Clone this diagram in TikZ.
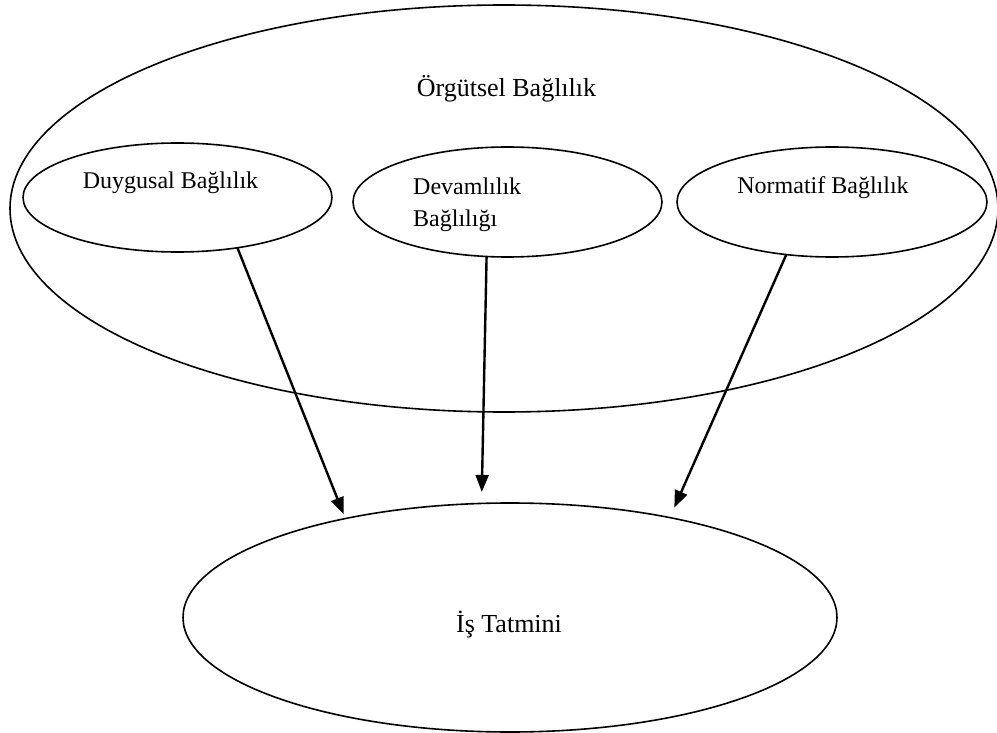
\documentclass[tikz,border=0pt]{standalone}
\usepackage{fontspec}
\setmainfont{Liberation Serif}
\usetikzlibrary{shapes.geometric,arrows.meta}
\begin{document}
\begin{tikzpicture}[x=1pt,y=-1pt,
  oval/.style={draw, ellipse, line width=1.6pt, inner sep=0pt, outer sep=0pt},
  link/.style={line width=2.4pt, -{Triangle[length=17pt,width=13pt]}},
  lbl/.style={inner sep=0pt, anchor=base},
  bigtext/.style={font=\fontsize{26}{31}\selectfont},
  smalltext/.style={font=\fontsize{24}{32}\selectfont}]
\useasboundingbox (0,0) rectangle (997,733);

% outer concept and its three components
\node[oval, minimum width=988pt, minimum height=407pt] (org) at (504,208.5) {};
\node[oval, minimum width=309pt, minimum height=109pt] (duy) at (177.5,197.5) {};
\node[oval, minimum width=309pt, minimum height=110pt] (dev) at (507.5,202) {};
\node[oval, minimum width=310pt, minimum height=110pt] (nor) at (832,202) {};

% outcome
\node[oval, minimum width=654pt, minimum height=229pt] (sat) at (510,617.5) {};

% labels (a two-line label sits on the baseline of its last line)
\node[lbl, bigtext] (orgt) at (506.5,97) {Örgütsel Bağlılık};
\node[lbl, smalltext] (duyt) at (170.5,189) {Duygusal Bağlılık};
\node[lbl, smalltext, anchor=base west, align=left] (devt) at (413,226) {Devamlılık\\Bağlılığı};
\node[lbl, smalltext] (nort) at (823,194) {Normatif Bağlılık};
\node[lbl, bigtext] (satt) at (509,632) {İş Tatmini};

% effects on job satisfaction
\draw[link, shorten >=4.6pt] (duy.-40) -- (sat.149.7);
\draw[link, shorten >=11.5pt] (dev.-111.5) -- (sat.104.9);
\draw[link, shorten >=11pt] (nor.-131.9) -- (sat.32.7);
\end{tikzpicture}
\end{document}
